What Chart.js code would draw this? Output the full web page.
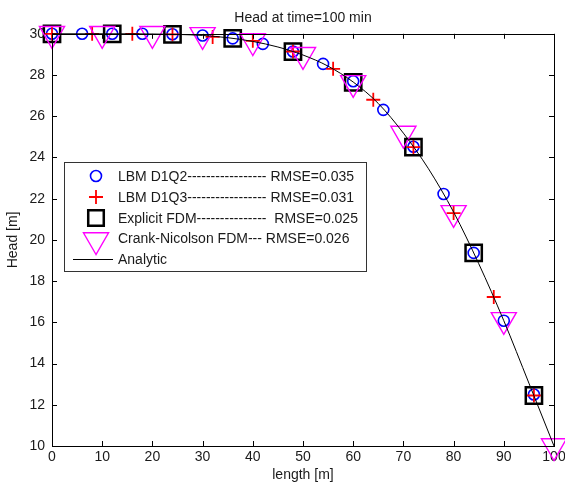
<!DOCTYPE html>
<html>
<head>
<meta charset="utf-8">
<script src="https://cdn.jsdelivr.net/npm/chart.js@4.4.0/dist/chart.umd.min.js"></script>
<style>
    html, body { margin: 0; padding: 0; background: #fff; }
</style>
</head>
<body>
<canvas id="headChart" width="565" height="485"></canvas>
<script>
// LBM D1Q2 (blue circles)
const d1q2X = [0, 6, 12, 18, 24, 30, 36, 42, 48, 54, 60, 66, 72, 78, 84, 90, 96];
const d1q2Y = [30, 30, 30, 30, 29.98, 29.92, 29.78, 29.51, 29.14, 28.54, 27.7, 26.31, 24.52, 22.23, 19.37, 16.08, 12.5];

// LBM D1Q3 (red plus)
const d1q3X = [0, 8, 16, 24, 32, 40, 48, 56, 64, 72, 80, 88, 96];
const d1q3Y = [30, 30, 30, 29.97, 29.85, 29.66, 29.14, 28.3, 26.8, 24.5, 21.3, 17.23, 12.45];

// Explicit FDM (black squares)
const fdmX = [0, 12, 24, 36, 48, 60, 72, 84, 96];
const fdmY = [30, 30, 29.97, 29.78, 29.14, 27.64, 24.5, 19.37, 12.45];

// Crank-Nicolson FDM (magenta triangles)
const cnX = [0, 10, 20, 30, 40, 50, 60, 70, 80, 90, 100];
const cnY = [30, 30, 30, 29.95, 29.65, 28.98, 27.62, 25.16, 21.31, 16.12, 10];

// Analytic solution (black line)
const anaX = [0, 5, 10, 15, 20, 25, 30, 35, 40, 45, 50, 55, 60, 65, 70, 75, 80, 85, 90, 95, 100];
const anaY = [30, 30, 30, 30, 29.99, 29.97, 29.92, 29.81, 29.63, 29.36, 28.97, 28.43, 27.66, 26.62, 25.18, 23.45, 21.35, 18.85, 16.08, 13.05, 10];

const legendRows = [
    'LBM D1Q2----------------- RMSE=0.035',
    'LBM D1Q3----------------- RMSE=0.031',
    'Explicit FDM---------------  RMSE=0.025',
    'Crank-Nicolson FDM--- RMSE=0.026',
    'Analytic'
];

const FONT = "'Liberation Sans', Arial, sans-serif";
const TEXT = '#1a1a1a';

function toPoints(xs, ys) {
    return xs.map((x, i) => ({ x: x, y: ys[i] }));
}

const markerStyles = [
    { pointStyle: 'circle', radius: 5.5, color: '#0000ff', width: 1.6, rotation: 0 },
    { pointStyle: 'cross', radius: 7, color: '#ff0000', width: 1.8, rotation: 0 },
    { pointStyle: 'rect', radius: 11.5, color: '#000000', width: 2.5, rotation: 0 },
    { pointStyle: 'triangle', radius: 14.5, color: '#ff00ff', width: 1.4, rotation: 180 }
];

function markerDataset(label, xs, ys, st, order) {
    return {
        label: label,
        data: toPoints(xs, ys),
        showLine: false,
        pointStyle: st.pointStyle,
        pointRadius: st.radius,
        pointHoverRadius: st.radius,
        pointRotation: st.rotation,
        pointBorderColor: st.color,
        pointBackgroundColor: 'rgba(0,0,0,0)',
        pointBorderWidth: st.width,
        clip: false,
        order: order
    };
}

// inward ticks, box, and the legend drawn inside the plot
const framePlugin = {
    id: 'frame',
    afterDatasetsDraw(chart) {
        const ctx = chart.ctx;
        const a = chart.chartArea;
        const xs = chart.scales.x;
        const ys = chart.scales.y;
        ctx.save();
        ctx.strokeStyle = '#000';
        ctx.lineWidth = 1;
        ctx.beginPath();
        xs.ticks.forEach(t => {
            const px = Math.round(xs.getPixelForValue(t.value)) + 0.5;
            ctx.moveTo(px, a.bottom); ctx.lineTo(px, a.bottom - 5);
            ctx.moveTo(px, a.top); ctx.lineTo(px, a.top + 5);
        });
        ys.ticks.forEach(t => {
            const py = Math.round(ys.getPixelForValue(t.value)) + 0.5;
            ctx.moveTo(a.left, py); ctx.lineTo(a.left + 5, py);
            ctx.moveTo(a.right, py); ctx.lineTo(a.right - 5, py);
        });
        ctx.stroke();
        ctx.strokeRect(Math.round(a.left) + 0.5, Math.round(a.top) + 0.5,
            Math.round(a.right - a.left), Math.round(a.bottom - a.top));

        // legend box
        const bx = 64.5, by = 162.5, bw = 302, bh = 109;
        ctx.fillStyle = '#fff';
        ctx.fillRect(bx, by, bw, bh);
        ctx.strokeStyle = '#333';
        ctx.strokeRect(bx, by, bw, bh);
        ctx.font = '14px ' + FONT;
        ctx.textBaseline = 'middle';
        ctx.textAlign = 'left';
        const rowY = [176, 197, 218, 238, 259];
        legendRows.forEach((txt, i) => {
            if (i < markerStyles.length) {
                const st = markerStyles[i];
                ctx.strokeStyle = st.color;
                ctx.fillStyle = 'rgba(0,0,0,0)';
                ctx.lineWidth = st.width;
                let r = st.radius;
                if (st.pointStyle === 'rect') r = 11;
                Chart.helpers.drawPoint(ctx, {
                    pointStyle: st.pointStyle, radius: r,
                    rotation: st.rotation, borderWidth: st.width
                }, 96, rowY[i] + (st.pointStyle === 'triangle' ? 2 : 0));
            } else {
                ctx.strokeStyle = '#000';
                ctx.lineWidth = 1;
                ctx.beginPath();
                ctx.moveTo(73, rowY[i] + 0.5);
                ctx.lineTo(113, rowY[i] + 0.5);
                ctx.stroke();
            }
            ctx.fillStyle = TEXT;
            ctx.fillText(txt, 118, rowY[i] + 1);
        });
        ctx.restore();
    }
};

const ctx = document.getElementById('headChart').getContext('2d');
new Chart(ctx, {
    type: 'scatter',
    data: {
        datasets: [
            markerDataset('LBM D1Q2', d1q2X, d1q2Y, markerStyles[0], 4),
            markerDataset('LBM D1Q3', d1q3X, d1q3Y, markerStyles[1], 3),
            markerDataset('Explicit FDM', fdmX, fdmY, markerStyles[2], 2),
            markerDataset('Crank-Nicolson FDM', cnX, cnY, markerStyles[3], 1),
            {
                label: 'Analytic',
                data: toPoints(anaX, anaY),
                showLine: true,
                borderColor: '#000',
                borderWidth: 1,
                pointRadius: 0,
                cubicInterpolationMode: 'monotone',
                clip: false,
                order: 0
            }
        ]
    },
    options: {
        responsive: false,
        animation: false,
        layout: { autoPadding: false, padding: { left: 0, right: 11, top: 0, bottom: 0 } },
        plugins: {
            legend: { display: false },
            tooltip: { enabled: false },
            title: {
                display: true,
                text: 'Head at time=100 min',
                fullSize: false,
                color: TEXT,
                font: { family: FONT, size: 14, weight: 'normal' },
                padding: { top: 10, bottom: 7 }
            }
        },
        scales: {
            x: {
                type: 'linear',
                min: 0,
                max: 100,
                afterFit: (s) => { s.height = 39; s.paddingRight = 0; s.paddingLeft = 0; },
                ticks: {
                    stepSize: 10,
                    autoSkip: false,
                    maxRotation: 0,
                    padding: 3,
                    color: TEXT,
                    font: { family: FONT, size: 14 }
                },
                grid: { display: false, drawTicks: false },
                border: { display: false },
                title: {
                    display: true,
                    text: 'length [m]',
                    color: TEXT,
                    font: { family: FONT, size: 14 },
                    padding: { top: 0, bottom: 1 }
                }
            },
            y: {
                type: 'linear',
                min: 10,
                max: 30,
                afterFit: (s) => { s.width = 52; s.paddingTop = 0; s.paddingBottom = 0; },
                ticks: {
                    stepSize: 2,
                    padding: 7,
                    color: TEXT,
                    font: { family: FONT, size: 14 }
                },
                grid: { display: false, drawTicks: false },
                border: { display: false },
                title: {
                    display: true,
                    text: 'Head [m]',
                    color: TEXT,
                    font: { family: FONT, size: 14 },
                    padding: { top: 5, bottom: 0 }
                }
            }
        }
    },
    plugins: [framePlugin]
});
</script>
</body>
</html>
